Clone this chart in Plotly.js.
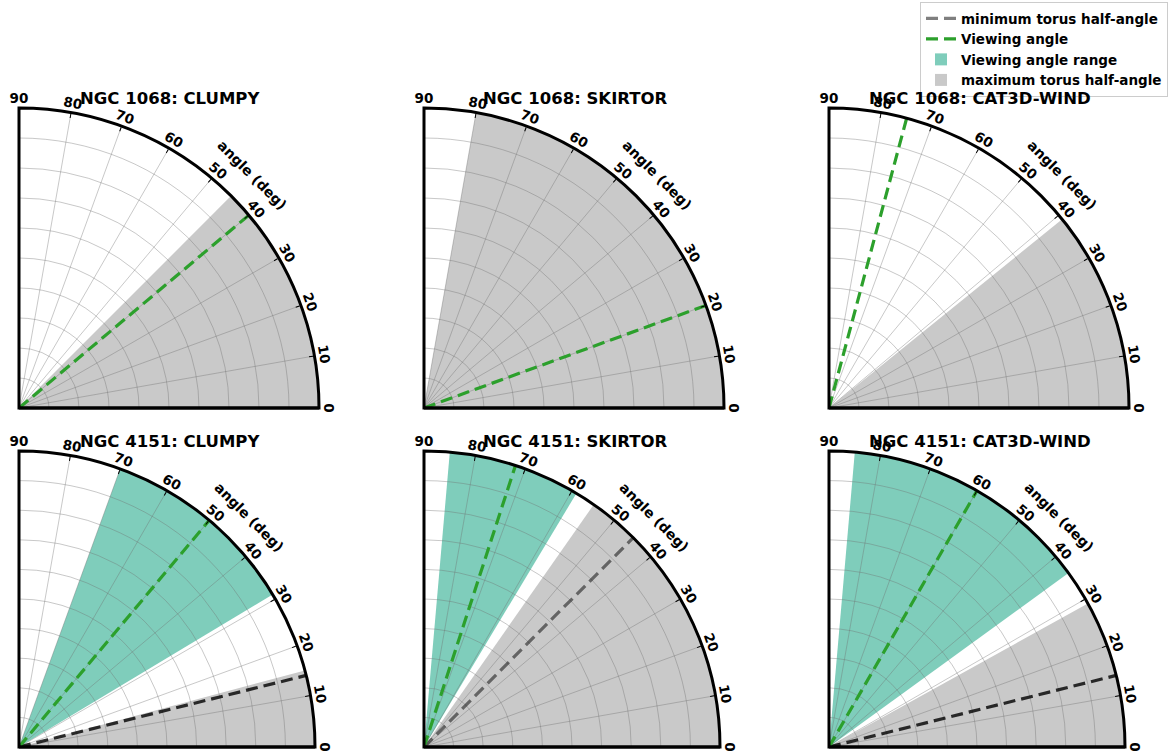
<!DOCTYPE html>
<html>
<head>
<meta charset="utf-8">
<script src="https://cdn.plot.ly/plotly-3.0.1.min.js"></script>
<style>
  html, body { margin: 0; padding: 0; background: #ffffff; }
  #chart { width: 1172px; height: 754px; }
</style>
</head>
<body>
<div id="chart"></div>
<script>
// ---------------- data ----------------
const panelTitles = [
  "NGC 1068: CLUMPY", "NGC 1068: SKIRTOR", "NGC 1068: CAT3D-WIND",
  "NGC 4151: CLUMPY", "NGC 4151: SKIRTOR", "NGC 4151: CAT3D-WIND"
];
const viewingAngle      = [40, 20, 75, 50, 72, 60];
const viewingRangeMin   = [null, null, null, 31, 59, 36];
const viewingRangeMax   = [null, null, null, 70, 85, 85];
const maxTorusHalfAngle = [45, 80, 39, 15, 55, 29];
const minTorusHalfAngle = [null, null, null, 14, 45, 14];
const angleTicks = [0, 10, 20, 30, 40, 50, 60, 70, 80, 90];
const seriesNames = ["minimum torus half-angle", "Viewing angle", "Viewing angle range", "maximum torus half-angle"];
const angleAxisLabel = "angle (deg)";

// ---------------- styles / geometry ----------------
const W = 1172, H = 754;
const colX = [19, 424, 829];
const rowY = [408, 747];
const rowR = [300, 296];
const GRAY_FILL = '#c9c9c9';
const TEAL_FILL = '#7fcdbb';
const GREEN = '#2ca02c';
const minLineColor = ['rgba(0,0,0,0.8)', 'rgba(0,0,0,0.8)', 'rgba(0,0,0,0.8)',
                      'rgba(0,0,0,0.8)', 'rgba(0,0,0,0.5)', 'rgba(0,0,0,0.8)'];
const GRID = 'rgba(110,110,110,0.38)';
const DASH = '12px,6px';
const BOLD = { family: 'DejaVu Sans', weight: 'bold', color: '#000000' };

const geom = panelTitles.map((t, i) => {
  const c = i % 3, r = Math.floor(i / 3);
  return { ox: colX[c], oy: rowY[r], R: rowR[r] };
});

const data = [];
const layout = {
  width: W, height: H,
  margin: { l: 0, r: 0, t: 0, b: 0, autoexpand: false },
  paper_bgcolor: '#ffffff',
  showlegend: true,
  hovermode: false,
  legend: {
    x: 1168 / W, xanchor: 'right', y: 1 - 2 / H, yanchor: 'top',
    bgcolor: '#ffffff', bordercolor: '#cccccc', borderwidth: 1,
    font: Object.assign({}, BOLD, { size: 13.5 }),
    tracegroupgap: 0, traceorder: 'normal'
  },
  annotations: []
};

geom.forEach((g, i) => {
  const baseId = 'polar' + (i === 0 ? '' : (i + 1));
  const overId = 'polar' + (i + 7);
  const domain = {
    x: [g.ox / W, (g.ox + g.R) / W],
    y: [(H - g.oy) / H, (H - g.oy + g.R) / H]
  };
  // base subplot: fills only
  layout[baseId] = {
    domain: domain, sector: [0, 90], bgcolor: '#ffffff',
    radialaxis: { range: [0, 1], showgrid: false, showline: false, showticklabels: false, ticks: '' },
    angularaxis: { showgrid: false, showline: false, showticklabels: false, ticks: '' }
  };
  // overlay subplot: grid, outline, ticks, lines
  layout[overId] = {
    domain: domain, sector: [0, 90], bgcolor: 'rgba(0,0,0,0)',
    radialaxis: {
      range: [0, 1], tick0: 0, dtick: 0.1, showticklabels: false, ticks: '',
      showline: true, linecolor: '#000000', linewidth: 3,
      showgrid: true, gridcolor: GRID, gridwidth: 1
    },
    angularaxis: {
      tickmode: 'array', tickvals: angleTicks, ticktext: angleTicks.map(String),
      showline: true, linecolor: '#000000', linewidth: 3,
      showgrid: true, gridcolor: GRID, gridwidth: 1,
      ticks: 'inside', ticklen: 4, tickwidth: 1, tickcolor: '#000000',
      tickfont: Object.assign({}, BOLD, { size: 13.5 })
    }
  };

  // maximum torus half-angle wedge
  data.push({
    type: 'barpolar', subplot: baseId,
    r: [1], theta: [maxTorusHalfAngle[i] / 2], width: [maxTorusHalfAngle[i]],
    marker: { color: GRAY_FILL, line: { width: 0 } },
    name: seriesNames[3], legendgroup: 'max', legendrank: 4,
    showlegend: i === 0, hoverinfo: 'skip'
  });
  // viewing angle range wedge
  if (viewingRangeMin[i] !== null) {
    const lo = viewingRangeMin[i], hi = viewingRangeMax[i];
    data.push({
      type: 'barpolar', subplot: baseId,
      r: [1], theta: [(lo + hi) / 2], width: [hi - lo],
      marker: { color: TEAL_FILL, line: { width: 0 } },
      name: seriesNames[2], legendgroup: 'range', legendrank: 3,
      showlegend: i === 3, hoverinfo: 'skip'
    });
  }
  // minimum torus half-angle line
  if (minTorusHalfAngle[i] !== null) {
    data.push({
      type: 'scatterpolar', subplot: overId, mode: 'lines',
      r: [0, 1], theta: [minTorusHalfAngle[i], minTorusHalfAngle[i]],
      line: { color: minLineColor[i], width: 3.2, dash: DASH },
      name: seriesNames[0], legendgroup: 'min', legendrank: 1,
      showlegend: i === 4, hoverinfo: 'skip'
    });
  }
  // viewing angle line
  data.push({
    type: 'scatterpolar', subplot: overId, mode: 'lines',
    r: [0, 1], theta: [viewingAngle[i], viewingAngle[i]],
    line: { color: GREEN, width: 3.2, dash: DASH },
    name: seriesNames[1], legendgroup: 'view', legendrank: 2,
    showlegend: i === 0, hoverinfo: 'skip'
  });

  // panel title
  layout.annotations.push({
    xref: 'paper', yref: 'paper',
    x: (g.ox + 151) / W, y: 1 - (i < 3 ? 98 : 441) / H,
    xanchor: 'center', yanchor: 'middle', showarrow: false,
    text: panelTitles[i], font: Object.assign({}, BOLD, { size: 16.5 })
  });
  // angular axis label
  const lr = g.R * 1.1, la = 45 * Math.PI / 180;
  layout.annotations.push({
    xref: 'paper', yref: 'paper',
    x: (g.ox + lr * Math.cos(la)) / W, y: 1 - (g.oy - lr * Math.sin(la)) / H,
    xanchor: 'center', yanchor: 'middle', showarrow: false, textangle: 45,
    text: angleAxisLabel, font: Object.assign({}, BOLD, { size: 14 })
  });
});

function rotateTickLabels() {
  const texts = Array.from(document.querySelectorAll('#chart svg text'));
  texts.forEach(t => {
    const s = (t.textContent || '').trim();
    if (!/^\d+$/.test(s)) return;
    const v = +s;
    if (angleTicks.indexOf(v) < 0) return;
    const rect = t.getBoundingClientRect();
    const cx = rect.left + rect.width / 2, cy = rect.top + rect.height / 2;
    let best = null, bd = Infinity;
    geom.forEach(g => {
      const ex = g.ox + (g.R + 10) * Math.cos(v * Math.PI / 180);
      const ey = g.oy - (g.R + 10) * Math.sin(v * Math.PI / 180);
      const dd = (ex - cx) * (ex - cx) + (ey - cy) * (ey - cy);
      if (dd < bd) { bd = dd; best = { ex: ex, ey: ey }; }
    });
    const bb = t.getBBox();
    const bx = bb.x + bb.width / 2, by = bb.y + bb.height / 2;
    const T = t.getAttribute('transform') || '';
    t.setAttribute('transform',
      T + ' translate(' + (best.ex - cx) + ',' + (best.ey - cy) + ') rotate(' + (90 - v) + ',' + bx + ',' + by + ')');
  });
}

Plotly.newPlot('chart', data, layout, { staticPlot: true, displayModeBar: false })
  .then(rotateTickLabels);
</script>
</body>
</html>
